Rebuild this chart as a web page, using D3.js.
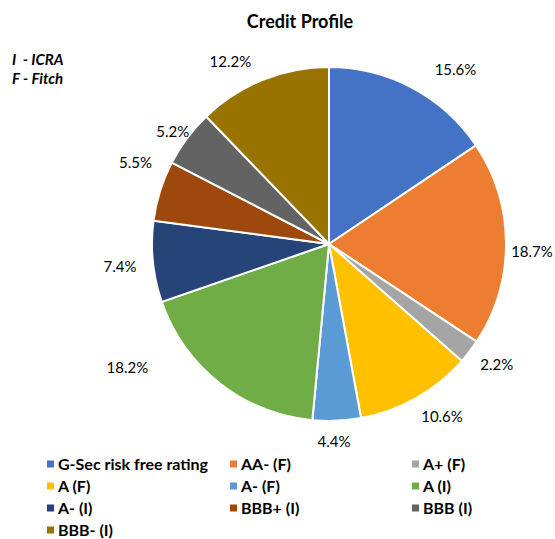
<!DOCTYPE html>
<meta charset="utf-8">
<style>
body { margin: 0; background: #fff; }
text { font-family: Lato, "Open Sans", sans-serif; fill: #000; }
.title { font-size: 18px; font-weight: bold; text-anchor: middle; }
.note { font-size: 15px; font-weight: bold; font-style: italic; }
.lbl { font-size: 15px; text-anchor: middle; }
.legend text { font-size: 16px; font-weight: bold; }
</style>
<svg width="555" height="539"></svg>
<script src="https://cdn.jsdelivr.net/npm/d3@7"></script>
<script>

var categories = ["G-Sec risk free rating", "AA- (F)", "A+ (F)", "A (F)", "A- (F)",
                  "A (I)", "A- (I)", "BBB+ (I)", "BBB (I)", "BBB- (I)"];
var values = [15.6, 18.7, 2.2, 10.6, 4.4, 18.2, 7.4, 5.5, 5.2, 12.2];
var colors = ["#4472C4", "#ED7D31", "#A5A5A5", "#FFC000", "#5B9BD5",
              "#70AD47", "#264478", "#9E480E", "#636363", "#997300"];

// label shifts from plain centroid placement (Excel best fit)
var labelNudge = [[30, 7], [-2, 8], [5, -4], [12, -6], [-4, -7],
                  [-75, -37], [-5, 2], [2, -20], [8, 10], [-22, 8]];

var svg = d3.select("svg"),
    cx = 329, cy = 244, radius = 177;

svg.append("text")
    .attr("class", "title")
    .attr("x", 300)
    .attr("y", 28)
    .text("Credit Profile");

svg.append("text").attr("class", "note").attr("x", 12).attr("y", 65)
    .attr("xml:space", "preserve").text("I  - ICRA");
svg.append("text").attr("class", "note").attr("x", 12).attr("y", 84).text("F - Fitch");

var pie = d3.pie().sort(null).value(function(d) { return d; });
var arcs = pie(values);

var arc = d3.arc().innerRadius(0).outerRadius(radius);
var labelArc = d3.arc().innerRadius(205).outerRadius(205);

var g = svg.append("g")
    .attr("transform", "translate(" + cx + "," + cy + ")");

g.selectAll("path")
  .data(arcs)
  .enter().append("path")
    .attr("d", arc)
    .attr("fill", function(d, i) { return colors[i]; })
    .attr("stroke", "#fff")
    .attr("stroke-width", 2);

g.selectAll(".lbl")
  .data(arcs)
  .enter().append("text")
    .attr("class", "lbl")
    .attr("transform", function(d, i) {
      var c = labelArc.centroid(d);
      return "translate(" + (c[0] + labelNudge[i][0]) + "," + (c[1] + labelNudge[i][1]) + ")";
    })
    .attr("dy", "0.35em")
    .text(function(d) { return d.value.toFixed(1) + "%"; });

var colX = [47, 230, 412],
    rowY = 464, rowH = 22;

var legend = svg.append("g").attr("class", "legend");

var item = legend.selectAll("g")
  .data(categories)
  .enter().append("g")
    .attr("transform", function(d, i) {
      return "translate(" + colX[i % 3] + "," + (rowY + Math.floor(i / 3) * rowH) + ")";
    });

item.append("rect")
    .attr("x", 0)
    .attr("y", -3.5)
    .attr("width", 7)
    .attr("height", 7)
    .attr("fill", function(d, i) { return colors[i]; });

item.append("text")
    .attr("x", 11)
    .attr("dy", "0.35em")
    .text(function(d) { return d; });

</script>
